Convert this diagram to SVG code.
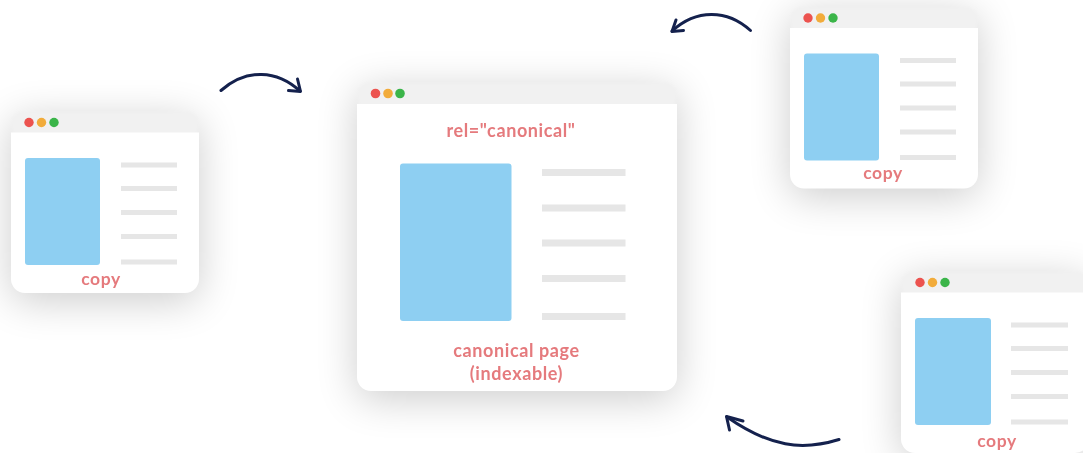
<svg xmlns="http://www.w3.org/2000/svg" width="1083" height="453" viewBox="0 0 1083 453">
  <defs>
    <filter id="shade" x="-40%" y="-40%" width="180%" height="190%">
      <feGaussianBlur in="SourceAlpha" stdDeviation="20"/>
      <feOffset dy="8" result="o"/>
      <feComponentTransfer in="o"><feFuncA type="linear" slope="0.2"/></feComponentTransfer>
    </filter>
    <filter id="haze" x="-5%" y="-30%" width="110%" height="160%"><feGaussianBlur stdDeviation="1.500"/></filter>
    <filter id="ease" x="-5%" y="-5%" width="110%" height="110%"><feGaussianBlur stdDeviation="0.600"/></filter>
  </defs>
  <style>
    .frame { fill: #000000; filter: url(#shade); }
    .head { fill: #f1f1f1; filter: url(#haze); }
    .body { fill: #ffffff; }
    .picture { fill: #8ecff2; }
    .line { fill: #e6e6e6; }
    .red { fill: #ec5350; }
    .amber { fill: #f2ac3b; }
    .green { fill: #3bb54a; }
    text { font-family: "Lato", "Liberation Sans", sans-serif; font-weight: 700; fill: #e57a7d; text-anchor: middle; letter-spacing: 0.6px; }
    .small { font-size: 17.500px; }
    .big { font-size: 18px; }
    .arrow { fill: none; stroke: #14214d; stroke-width: 3; stroke-linecap: round; stroke-linejoin: round; }
    .soft { filter: url(#ease); }
  </style>
  <rect width="1083" height="453" fill="#ffffff"/>

  <g id="node-canonical">
    <rect class="frame" x="357" y="82" width="320" height="309" rx="14"/>
    <rect class="head" x="358" y="83" width="318" height="30" rx="10"/>
    <path class="body" d="M357 104H677V377a14 14 0 0 1-14 14H371a14 14 0 0 1-14-14Z"/>
    <g class="soft">
      <circle class="red" cx="375.500" cy="93.500" r="4.800"/>
      <circle class="amber" cx="388" cy="93.500" r="4.800"/>
      <circle class="green" cx="400" cy="93.500" r="4.800"/>
      <rect class="picture" x="400" y="163.500" width="111.500" height="157.500" rx="3"/>
      <rect class="line" x="542" y="169" width="83.500" height="7"/>
      <rect class="line" x="542" y="204.500" width="83.500" height="7"/>
      <rect class="line" x="542" y="239.500" width="83.500" height="7"/>
      <rect class="line" x="542" y="275" width="83.500" height="7"/>
      <rect class="line" x="542" y="313" width="83.500" height="7"/>
      <text class="big" x="511" y="137">rel="canonical"</text>
      <text class="big" x="516.500" y="357">canonical page</text>
      <text class="big" x="516.500" y="380">(indexable)</text>
    </g>
  </g>

  <g id="node-copy-left">
    <rect class="frame" x="11" y="111" width="188" height="182" rx="14"/>
    <rect class="head" x="12" y="112" width="186" height="30" rx="10"/>
    <path class="body" d="M11 132.500H199V279a14 14 0 0 1-14 14H25a14 14 0 0 1-14-14Z"/>
    <g class="soft">
      <circle class="red" cx="29" cy="122.500" r="4.700"/>
      <circle class="amber" cx="41.500" cy="122.500" r="4.700"/>
      <circle class="green" cx="54" cy="122.500" r="4.700"/>
      <rect class="picture" x="25" y="158" width="75" height="107" rx="3"/>
      <rect class="line" x="121" y="162.500" width="56" height="5"/>
      <rect class="line" x="121" y="186" width="56" height="5"/>
      <rect class="line" x="121" y="210" width="56" height="5"/>
      <rect class="line" x="121" y="234" width="56" height="5"/>
      <rect class="line" x="121" y="259.500" width="56" height="5"/>
      <text class="small" x="101" y="285">copy</text>
    </g>
  </g>

  <g id="node-copy-top" transform="translate(779 -104.500)">
    <rect class="frame" x="11" y="111" width="188" height="182" rx="14"/>
    <rect class="head" x="12" y="112" width="186" height="30" rx="10"/>
    <path class="body" d="M11 132.500H199V279a14 14 0 0 1-14 14H25a14 14 0 0 1-14-14Z"/>
    <g class="soft">
      <circle class="red" cx="29" cy="122.500" r="4.700"/>
      <circle class="amber" cx="41.500" cy="122.500" r="4.700"/>
      <circle class="green" cx="54" cy="122.500" r="4.700"/>
      <rect class="picture" x="25" y="158" width="75" height="107" rx="3"/>
      <rect class="line" x="121" y="162.500" width="56" height="5"/>
      <rect class="line" x="121" y="186" width="56" height="5"/>
      <rect class="line" x="121" y="210" width="56" height="5"/>
      <rect class="line" x="121" y="234" width="56" height="5"/>
      <rect class="line" x="121" y="259.500" width="56" height="5"/>
      <text class="small" x="104" y="283">copy</text>
    </g>
  </g>

  <g id="node-copy-bottom" transform="translate(890 160)">
    <rect class="frame" x="11" y="111" width="188" height="182" rx="14"/>
    <rect class="head" x="12" y="112" width="186" height="30" rx="10"/>
    <path class="body" d="M11 132.500H199V279a14 14 0 0 1-14 14H25a14 14 0 0 1-14-14Z"/>
    <g class="soft">
      <circle class="red" cx="30" cy="122.500" r="4.700"/>
      <circle class="amber" cx="42.500" cy="122.500" r="4.700"/>
      <circle class="green" cx="55" cy="122.500" r="4.700"/>
      <rect class="picture" x="25" y="158" width="76" height="107" rx="3"/>
      <rect class="line" x="121" y="162.500" width="57" height="5"/>
      <rect class="line" x="121" y="186" width="57" height="5"/>
      <rect class="line" x="121" y="210" width="57" height="5"/>
      <rect class="line" x="121" y="234" width="57" height="5"/>
      <rect class="line" x="121" y="259.500" width="57" height="5"/>
      <text class="small" x="107" y="287">copy</text>
    </g>
  </g>

  <g id="connectors">
    <path class="arrow" d="M221 90.500C247 68 277 70 300 91"/>
    <path class="arrow" d="M288.500 90.500L300.500 91.500L297.500 79"/>
    <path class="arrow" d="M750.500 30.500C727 9 696 9 672 31"/>
    <path class="arrow" d="M683.500 30.500L672 31.500L676 20"/>
    <path class="arrow" d="M839 439.500C802 451 770 447 727 417"/>
    <path class="arrow" d="M743 421L726.500 416.500L729.500 430"/>
  </g>
</svg>
